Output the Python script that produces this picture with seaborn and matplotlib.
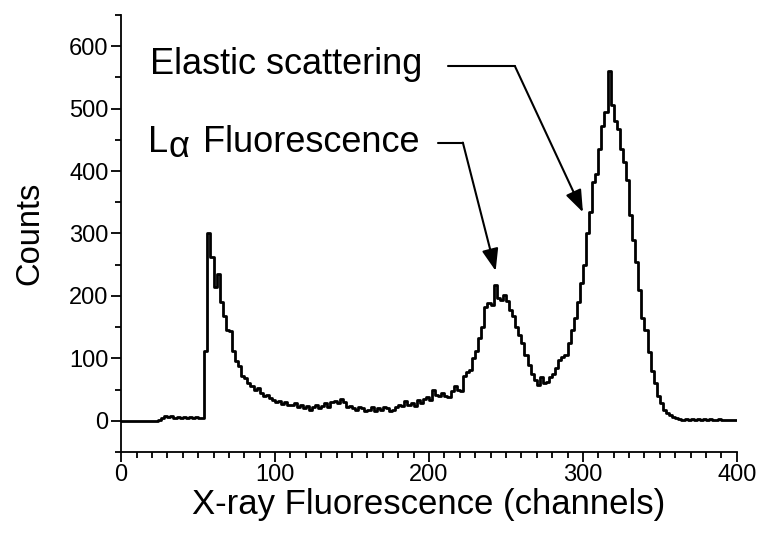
import numpy as np
import pandas as pd
import matplotlib
matplotlib.use("Agg")
import matplotlib.pyplot as plt
import seaborn as sns
from matplotlib.ticker import MultipleLocator

# ---- data (2-channel resolution) ----
channels = list(range(0, 401, 2))
counts_low = [0, 0, 0, 0, 0, 0, 0, 0, 0, 0, 0, 0,
              2, 4, 8, 6, 7, 5, 6, 5, 6, 5, 6, 4, 6, 5, 4]
counts_edge = [111, 300, 262, 215, 235, 190, 168, 145, 143, 112, 95, 88,
               72, 68, 60, 55, 50, 53, 45, 40, 42, 36, 34]
counts_mid = [30, 32, 27, 30, 26, 25, 28, 22, 26, 20, 24, 18, 22, 26, 20,
              24, 28, 22, 30, 32, 28, 35, 30, 22, 24, 20, 18, 22, 20, 16,
              18, 22, 16, 20, 18, 22, 20, 16, 18, 22, 26, 24, 32, 26, 28,
              24, 33, 28, 35, 38, 34, 50, 42, 40, 45, 40, 38, 48, 55, 50, 47]
counts_lalpha = [72, 78, 82, 100, 112, 133, 150, 182, 188, 186, 218, 196,
                 194, 202, 192, 178, 168, 150, 138, 125, 105, 90, 75, 65,
                 58, 70, 60, 62, 70, 75]
counts_elastic = [85, 98, 102, 106, 125, 146, 165, 190, 220, 250, 300, 335,
                  382, 395, 435, 472, 495, 560, 505, 480, 468, 435, 415, 385,
                  330, 290, 255, 210, 165, 146, 110, 80, 60, 40, 28, 18, 13,
                  9, 6, 4]
counts_tail = [3, 2, 3, 2, 3, 2, 3, 2, 3, 2, 3, 2, 2, 3, 2, 2, 1, 1, 1, 1]
counts = counts_low + counts_edge + counts_mid + counts_lalpha + counts_elastic + counts_tail
assert len(counts) == len(channels)

x_ticks = [0, 100, 200, 300, 400]
y_ticks = [0, 100, 200, 300, 400, 500, 600]

df = pd.DataFrame({"channel": channels, "counts": counts})

# ---- style ----
sns.set_style("ticks")
plt.rcParams["font.family"] = ["Liberation Sans", "DejaVu Sans"]
plt.rcParams["text.color"] = "black"
plt.rcParams["axes.labelcolor"] = "black"

fig = plt.figure(figsize=(7.62, 5.33), dpi=100)
ax = fig.add_axes([0.159, 0.152, 0.808, 0.820])

sns.lineplot(data=df, x="channel", y="counts", drawstyle="steps-post",
             color="black", lw=2.0, estimator=None, sort=False, ax=ax)

ax.set_xlim(0, 400)
ax.set_ylim(-50, 650)
ax.set_xticks(x_ticks)
ax.set_yticks(y_ticks)
ax.xaxis.set_minor_locator(MultipleLocator(10))
ax.yaxis.set_minor_locator(MultipleLocator(50))
ax.tick_params(which="major", direction="out", length=7, width=1.3, pad=2,
               labelsize=17, color="black", labelcolor="black")
ax.tick_params(which="minor", direction="out", length=4, width=1.3, color="black")
for s in ["top", "right"]:
    ax.spines[s].set_visible(False)
for s in ["left", "bottom"]:
    ax.spines[s].set_linewidth(1.3)
    ax.spines[s].set_color("black")

ax.set_xlabel("X-ray Fluorescence (channels)", fontsize=25, labelpad=1)
ax.set_ylabel("Counts", fontsize=23.5, labelpad=17)

# ---- annotations ----
arrow_kw = dict(arrowstyle="-|>,head_length=0.75,head_width=0.28",
                color="black", lw=1.5, mutation_scale=18, shrinkA=0, shrinkB=0)

ax.text(18.8, 556, "Elastic scattering", fontsize=26, va="baseline", ha="left")
ax.plot([212.5, 255.8], [568, 568], color="black", lw=1.5)
ax.annotate("", xy=(300, 334), xytext=(255.8, 568), arrowprops=arrow_kw)

ax.text(17.7, 430, "L", fontsize=26, va="baseline", ha="left")
ax.text(30.5, 422, "\u03b1", fontsize=26, va="baseline", ha="left")
ax.text(53.0, 430, "Fluorescence", fontsize=26, va="baseline", ha="left")
ax.plot([205.8, 222], [445.5, 445.5], color="black", lw=1.5)
ax.annotate("", xy=(243.3, 240), xytext=(222, 445.5), arrowprops=arrow_kw)

fig.savefig("out.png", dpi=100)
